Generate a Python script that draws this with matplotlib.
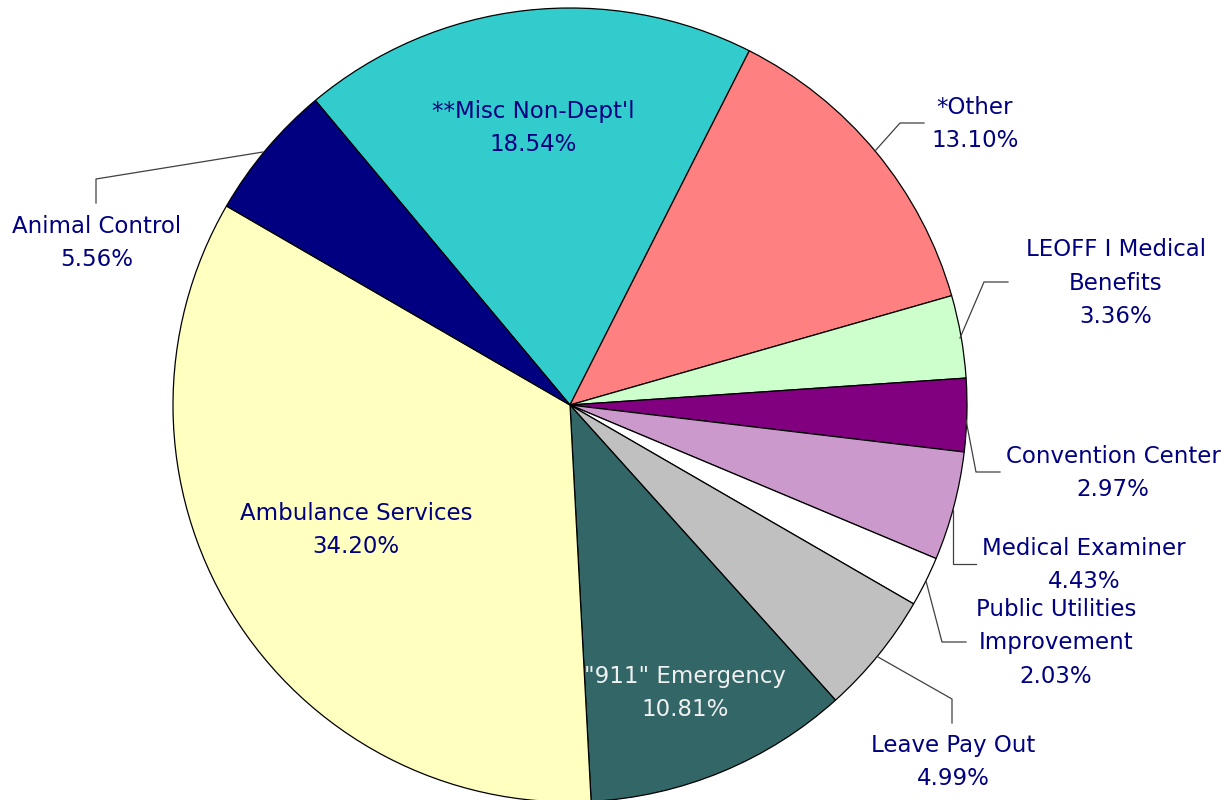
import numpy as np
import matplotlib.pyplot as plt

# Budget shares, clockwise from the upper-left wedge
categories = ["**Misc Non-Dept'l", "*Other", "LEOFF I Medical\nBenefits", "Convention Center",
              "Medical Examiner", "Public Utilities\nImprovement", "Leave Pay Out",
              '"911" Emergency', "Ambulance Services", "Animal Control"]
shares = [18.54, 13.10, 3.36, 2.97, 4.43, 2.03, 4.99, 10.81, 34.20, 5.56]
colors = ["#33CCCC", "#FF8080", "#CCFFCC", "#800080", "#CC99CC",
          "#FFFFFF", "#C0C0C0", "#336666", "#FFFFC0", "#000080"]

# label placement in pixel units relative to the pie centre (x right, y up)
label_pos = [(-37, 277), (405, 281), (546, 122), (543, -68), (514, -160),
             (486, -238), (383, -357), (115, -288), (-214, -125), (-473, 162)]
label_colors = ["#000080"] * 7 + ["#F0F0F0"] + ["#000080"] * 2
# leader lines for the labels that sit outside the pie
leaders = {
    1: [(305, 254), (330, 282), (354, 282)],
    2: [(390, 67), (414, 123), (438, 123)],
    3: [(396, -15), (406, -67), (430, -67)],
    4: [(383, -105), (383, -159), (406, -159)],
    5: [(356, -176), (372, -237), (396, -237)],
    6: [(308, -252), (382, -294), (382, -318)],
    9: [(-307, 253), (-474, 226), (-474, 202)],
}

radius = 397
fig = plt.figure(figsize=(12.31, 8), dpi=100)
ax = fig.add_axes([0, 0, 1, 1])

ax.pie(shares, colors=colors, startangle=129.9, counterclock=False, radius=radius,
       wedgeprops=dict(edgecolor="black", linewidth=0.9))
ax.set_aspect("auto")
ax.set_xlim(-570, 661)
ax.set_ylim(-395, 405)
ax.axis("off")

for i, (name, val) in enumerate(zip(categories, shares)):
    x, y = label_pos[i]
    ax.text(x, y, f"{name}\n{val:.2f}%", ha="center", va="center", fontsize=16.5,
            color=label_colors[i], linespacing=1.6, family="DejaVu Sans")

for pts in leaders.values():
    xs, ys = zip(*pts)
    ax.plot(xs, ys, color="#404040", linewidth=0.9)

fig.savefig("out.png", dpi=100)
